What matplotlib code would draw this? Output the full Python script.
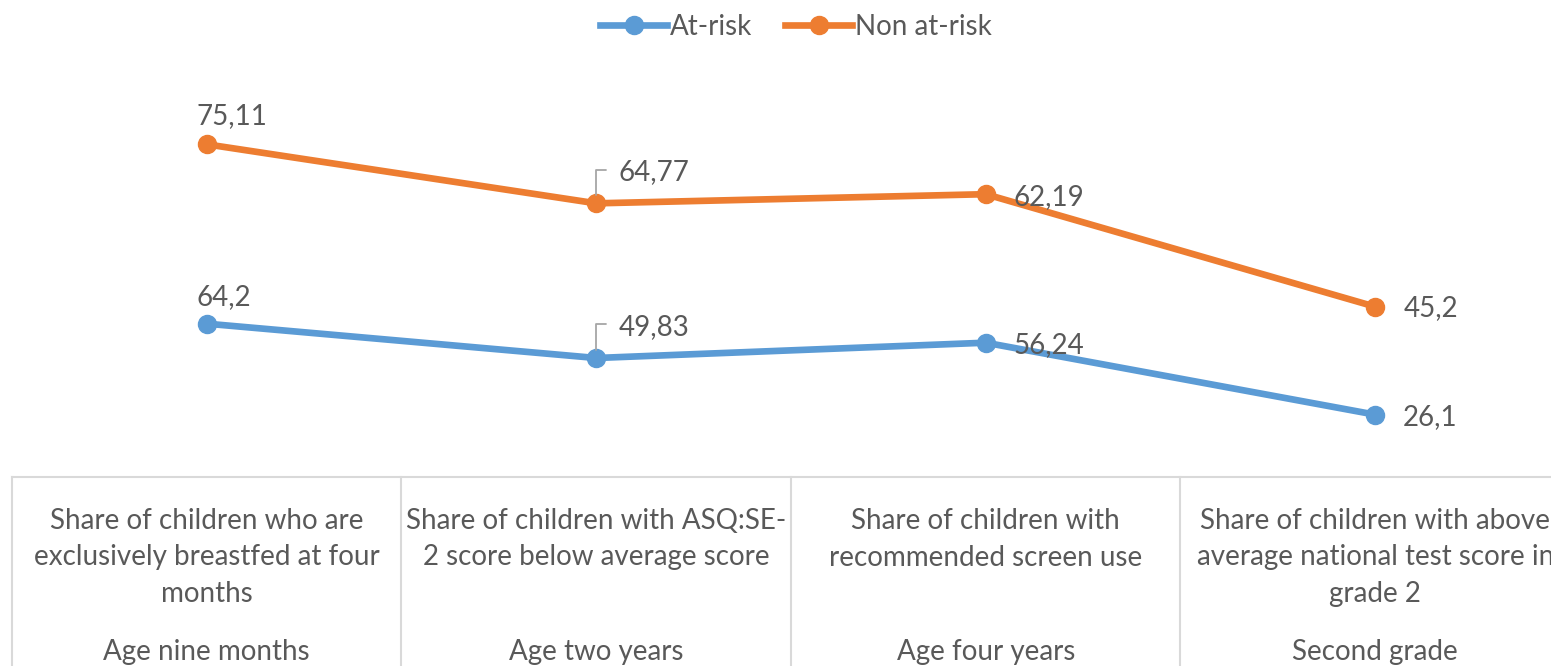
import numpy as np
import matplotlib
matplotlib.use("Agg")
import matplotlib.pyplot as plt
from matplotlib import transforms
from matplotlib.lines import Line2D

plt.rcParams['font.family'] = ['Lato', 'DejaVu Sans']

# data (stacked line chart: orange is drawn on top of blue)
categories = [
    "Share of children who are\nexclusively breastfed at four\nmonths",
    "Share of children with ASQ:SE-\n2 score below average score",
    "Share of children with\nrecommended screen use",
    "Share of children with above\naverage national test score in\ngrade 2",
]
ages = ["Age nine months", "Age two years", "Age four years", "Second grade"]
at_risk = [64.2, 49.83, 56.24, 26.1]
non_at_risk = [75.11, 64.77, 62.19, 45.2]
at_risk_lbl = ["64,2", "49,83", "56,24", "26,1"]
non_lbl = ["75,11", "64,77", "62,19", "45,2"]

blue = '#5B9BD5'
orange = '#ED7D31'
grey_txt = '#595959'
grid = '#D9D9D9'
fs = 20

W, H = 1551, 666
fig = plt.figure(figsize=(W / 100, H / 100), dpi=100)

# axes in pixel terms: x from 12 to 1570, zero line at y=477, 160 units tall
px_per_unit = 2.388
x0, x1 = 12, 1570
y0 = 477
ax_h = 160 * px_per_unit
ax = fig.add_axes([x0 / W, (H - y0) / H, (x1 - x0) / W, ax_h / H])
ax.set_xlim(-0.5, 3.5)
ax.set_ylim(0, 160)
ax.axis('off')

x = np.arange(len(categories))
stacked = np.array(at_risk) + np.array(non_at_risk)

ax.plot(x, at_risk, color=blue, lw=4.8, marker='o', ms=13, solid_capstyle='round', zorder=3)
ax.plot(x, stacked, color=orange, lw=4.8, marker='o', ms=13, solid_capstyle='round', zorder=3)

# data labels (offsets in pixels -> points)
def px(v):
    return v * 0.72

at_off = [(-10, 27), None, (28, -2), (28, -2)]
non_off = [(-10, 28), None, (28, -3), (28, -1)]
for i in range(4):
    for vals, lbls, offs in [(at_risk, at_risk_lbl, at_off), (stacked, non_lbl, non_off)]:
        if offs[i] is None:
            ax.annotate(lbls[i], (x[i], vals[i]), xytext=(px(22), px(31)),
                        textcoords='offset points', ha='left', va='center',
                        fontsize=fs, color=grey_txt,
                        arrowprops=dict(arrowstyle='-', color='#A6A6A6', lw=1.3,
                                        connectionstyle='angle,angleA=180,angleB=90,rad=0',
                                        relpos=(0, 0.6), shrinkA=px(9), shrinkB=px(8)))
        else:
            dx, dy = offs[i]
            ax.annotate(lbls[i], (x[i], vals[i]), xytext=(px(dx), px(dy)),
                        textcoords='offset points', ha='left', va='center',
                        fontsize=fs, color=grey_txt)

# category table below the plot
tr = transforms.blended_transform_factory(ax.transData, fig.transFigure)
ybase = (H - y0) / H
ax.plot([-0.5, 3.5], [ybase, ybase], color=grid, lw=1.5, transform=tr, clip_on=False)
for b in np.arange(-0.5, 4.0, 1.0):
    ax.plot([b, b], [ybase, -0.1], color=grid, lw=1.5, transform=tr, clip_on=False)
for i in range(4):
    ax.text(x[i], (H - 508) / H, categories[i], transform=tr, ha='center', va='top',
            fontsize=fs, color=grey_txt, linespacing=1.5)
    ax.text(x[i], (H - 652) / H, ages[i], transform=tr, ha='center', va='center',
            fontsize=fs, color=grey_txt)

handles = [Line2D([], [], color=blue, lw=4.8, marker='o', ms=13),
           Line2D([], [], color=orange, lw=4.8, marker='o', ms=13)]
fig.legend(handles, ['At-risk', 'Non at-risk'], loc='center', bbox_to_anchor=(796 / W, (H - 27) / H),
           ncol=2, frameon=False, fontsize=fs, labelcolor=grey_txt,
           handlelength=2.4, handletextpad=0.1, columnspacing=1.2)

fig.savefig('out.png', dpi=100)
